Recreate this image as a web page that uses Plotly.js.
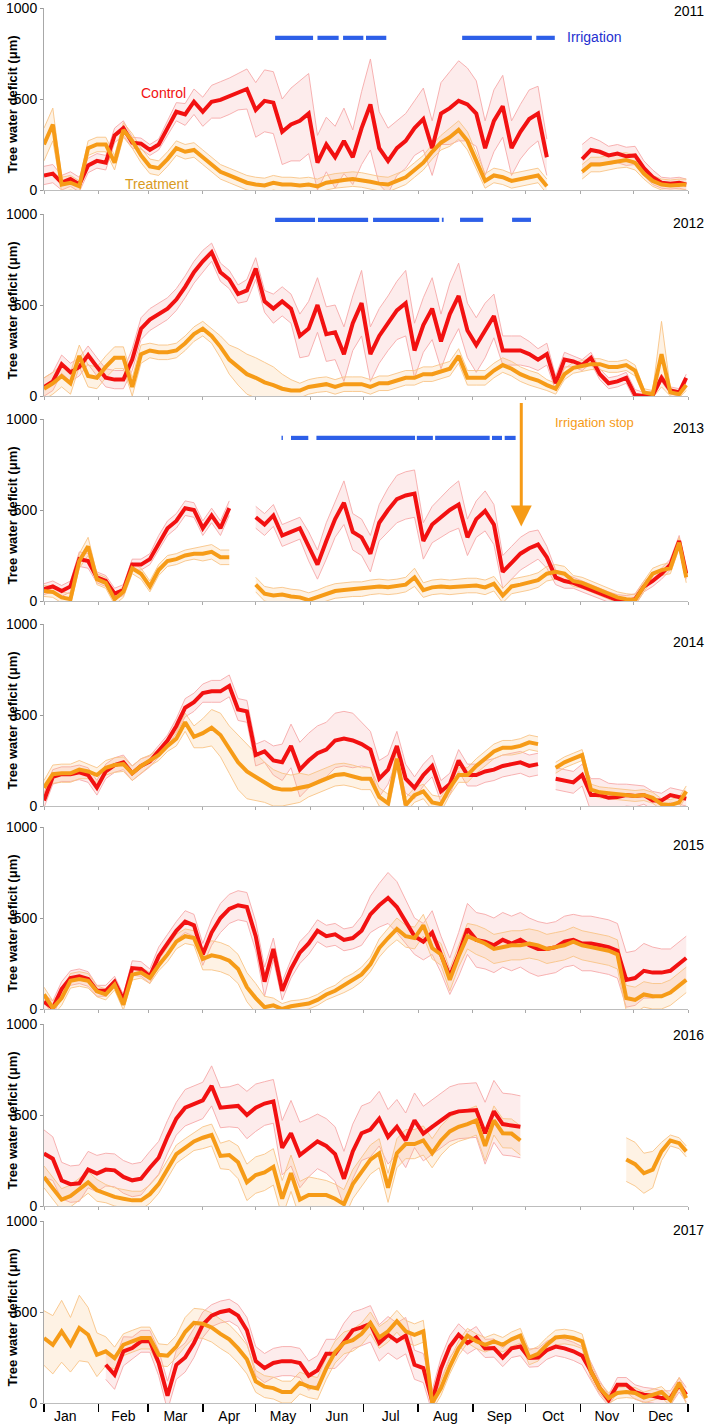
<!DOCTYPE html>
<html><head><meta charset="utf-8">
<script src="https://cdn.plot.ly/plotly-3.0.1.min.js"></script>
<style>html,body{margin:0;padding:0;background:#fff}</style>
</head><body><div id="chart" style="width:709px;height:1427px"></div>
<script>
// day of year for every sample
const days = [0,5,10,15,20,25,30,35,40,45,50,55,60,65,70,75,80,85,90,95,100,105,110,115,120,125,130,135,140,145,150,155,160,165,170,175,180,185,190,195,200,205,210,215,220,225,230,235,240,245,250,255,260,265,270,275,280,285,290,295,300,305,310,315,320,325,330,335,340,345,350,355,360,364];
const monthNames = ["Jan","Feb","Mar","Apr","May","Jun","Jul","Aug","Sep","Oct","Nov","Dec"];
const monthMids = [12,45,74.5,105,135.5,166,196.5,227.5,258,288.5,319,349.5];
const monthEdges = [0,31,59,90,120,151,181,212,243,273,304,334,365];
const years = [2011,2012,2013,2014,2015,2016,2017];

const ctrl2011 = [80,90,40,60,30,135,160,150,300,340,260,255,220,250,340,430,415,485,430,485,495,515,540,555,440,490,480,320,360,380,420,150,250,180,270,180,340,470,230,160,230,270,340,390,230,420,450,490,470,420,230,380,460,230,320,390,420,180,null,null,null,170,220,210,190,200,185,190,120,70,40,35,40,30];
const treat2011 = [250,360,30,40,20,230,250,250,150,330,270,190,130,120,170,230,210,220,180,140,100,80,60,40,30,25,40,30,30,25,30,20,40,50,55,60,55,45,35,30,50,70,110,150,210,260,290,330,270,160,50,80,70,50,60,70,80,20,null,null,null,100,140,140,150,160,165,150,90,50,30,25,30,30];
const ctrlSd2011 = [50,50,40,40,40,40,40,40,40,40,30,30,30,30,40,50,60,70,80,90,100,100,100,110,150,170,170,180,200,220,220,150,150,170,180,150,200,250,200,180,150,150,150,170,150,170,200,220,200,180,150,170,170,150,150,160,150,100,0,0,0,80,70,60,50,50,50,50,40,40,30,30,30,30];
const treatSd2011 = [90,90,40,40,30,40,40,40,40,40,40,40,40,40,40,40,40,40,40,40,40,40,40,40,40,40,40,40,40,40,40,40,40,40,40,40,40,40,40,40,40,40,40,40,40,40,50,50,50,50,40,40,40,40,40,40,40,40,0,0,0,40,40,40,40,40,40,40,30,30,30,30,30,30];

const ctrl2012 = [49,80,175,130,160,225,160,100,90,90,200,370,420,450,480,530,600,680,740,790,680,640,560,580,700,520,480,520,480,330,370,500,340,350,230,400,510,230,330,400,470,510,250,390,480,300,450,550,360,280,360,440,250,250,250,230,200,230,70,200,190,170,210,120,70,80,100,5,0,5,100,30,20,100];
const treat2012 = [40,70,110,70,220,110,100,160,210,210,50,230,250,240,240,250,290,340,370,330,270,200,160,120,100,75,60,40,30,30,50,60,65,50,65,65,65,50,70,70,85,100,100,120,120,135,150,220,100,100,100,140,170,150,120,100,85,60,40,120,155,165,175,175,160,160,170,140,20,10,230,20,10,60];
const ctrlSd2012 = [50,50,50,50,50,50,50,50,50,50,60,60,60,60,60,60,60,60,60,50,50,50,50,60,60,60,80,80,80,120,150,150,150,150,150,150,180,150,150,150,160,180,150,150,170,150,170,180,150,150,150,120,80,80,80,70,60,60,40,40,30,30,30,30,30,30,30,30,20,20,20,20,20,20];
const treatSd2012 = [60,60,60,60,60,60,60,60,60,60,50,50,40,40,40,40,40,40,40,40,60,80,100,110,110,110,100,80,60,40,40,40,40,40,40,40,40,40,40,40,40,40,40,40,40,40,40,40,40,40,40,40,40,40,40,40,40,30,30,30,30,30,30,30,30,30,30,30,20,20,180,20,20,30];

const ctrl2013 = [65,80,55,80,230,220,130,110,40,60,200,200,230,320,400,440,510,500,400,470,400,510,null,null,460,420,470,360,380,400,300,200,330,450,540,380,350,260,430,500,560,580,590,330,420,460,500,530,350,450,495,420,160,210,260,290,310,240,130,110,100,80,60,40,20,5,0,10,80,110,150,200,330,150];
const treat2013 = [55,50,20,10,220,300,120,100,10,50,180,150,80,170,220,230,250,260,260,270,240,240,null,null,90,40,30,35,25,20,5,20,40,55,60,65,65,75,80,75,80,90,130,60,75,80,75,80,85,85,75,95,30,80,90,100,115,150,160,150,110,100,80,60,40,20,10,5,80,150,170,180,320,130];
const ctrlSd2013 = [30,30,30,30,40,40,30,30,30,30,30,30,30,40,40,40,40,40,40,40,40,40,0,0,60,60,60,60,60,60,80,80,100,100,120,100,100,100,100,120,130,130,130,100,100,110,120,130,100,100,110,110,90,90,90,90,80,60,40,40,30,30,30,30,30,30,30,30,30,30,30,30,30,30];
const treatSd2013 = [30,30,30,30,40,50,30,30,30,30,30,30,30,30,30,30,30,30,40,40,40,40,0,0,40,40,40,40,40,40,40,40,40,40,40,40,40,40,40,40,40,40,50,40,40,40,40,40,40,40,40,40,40,40,40,40,40,40,40,40,30,30,30,30,30,30,30,30,30,30,30,30,30,30];

const ctrl2014 = [30,160,175,175,185,170,100,190,225,240,180,220,245,300,360,440,540,570,620,630,630,660,530,520,280,300,250,240,330,200,250,290,310,360,370,360,340,310,150,200,330,150,100,170,220,80,120,250,170,170,190,200,220,230,240,220,230,null,150,140,130,170,60,60,45,50,60,55,60,30,30,60,50,40];
const treat2014 = [100,175,180,180,200,190,170,210,225,230,180,220,250,280,330,370,460,380,400,430,390,310,240,190,160,130,100,90,90,100,110,130,150,170,175,165,150,150,50,15,260,5,60,80,20,10,100,170,170,220,260,300,320,320,330,350,340,null,210,240,260,280,90,75,70,65,60,55,60,45,10,5,20,80];
const ctrlSd2014 = [40,40,40,40,40,40,40,40,40,40,40,40,30,30,30,40,50,50,50,60,60,60,60,60,60,60,80,100,120,150,150,150,150,150,150,150,120,100,100,80,80,80,60,60,60,60,60,60,60,60,60,60,60,60,60,60,60,0,60,60,60,60,90,90,80,70,60,60,50,50,40,40,40,40];
const treatSd2014 = [40,50,50,50,50,40,40,40,40,40,40,40,30,30,30,40,50,60,80,100,120,130,150,150,130,110,100,90,80,80,60,60,60,60,60,60,60,60,50,50,50,40,40,40,40,40,40,40,40,40,40,40,40,40,40,40,40,0,30,30,30,30,30,30,30,30,30,30,30,30,30,30,30,30];

const ctrl2015 = [40,5,110,170,180,165,100,100,150,50,225,220,180,290,360,430,480,460,300,420,500,550,570,560,400,150,330,100,220,310,360,430,400,410,380,390,430,520,570,610,560,480,400,370,420,300,180,300,440,380,370,350,380,360,380,350,330,330,340,370,380,360,360,350,340,320,160,170,210,200,200,210,250,280];
const treat2015 = [80,5,60,155,165,155,97,80,134,24,189,200,170,240,300,370,400,390,275,295,285,265,220,120,60,10,20,0,15,20,30,50,80,100,130,155,190,245,335,390,440,400,390,460,335,300,160,290,400,380,360,330,340,350,350,360,350,330,340,350,370,350,340,330,320,300,60,50,80,70,70,90,130,160];
const ctrlSd2015 = [40,40,40,40,40,40,30,30,30,30,40,40,40,50,50,50,60,60,60,70,80,80,80,80,80,80,60,50,50,60,60,60,60,60,60,60,80,100,120,140,140,120,100,100,120,100,100,120,140,150,150,150,150,150,150,150,150,140,140,140,140,150,150,150,150,150,150,150,150,140,130,120,120,120];
const treatSd2015 = [40,40,40,40,40,40,30,30,30,30,30,30,30,30,40,40,40,40,60,80,80,80,80,80,80,60,40,30,30,30,30,30,30,30,40,40,40,40,50,50,60,60,60,60,60,60,60,60,70,80,80,80,80,80,80,80,80,80,80,80,80,80,80,80,80,80,70,70,70,70,70,70,70,70];

const ctrl2016 = [288,260,140,120,125,200,178,200,196,160,141,150,210,265,380,480,540,560,580,660,540,545,550,500,540,563,575,320,400,280,320,355,330,285,150,300,400,420,480,380,435,361,471,398,435,470,505,520,525,527,400,520,450,445,435,null,null,null,null,null,null,null,null,null,null,null,null,null,null,null,null,null,null,null];
const treat2016 = [160,100,35,55,90,130,86,68,50,40,31,31,65,120,200,285,320,355,375,390,275,280,240,130,170,185,215,40,180,35,60,60,60,40,10,120,190,255,290,100,290,340,340,360,290,360,410,435,450,470,330,470,400,398,360,null,null,null,null,null,null,null,null,null,null,null,255,230,180,200,300,360,345,300];
const ctrlSd2016 = [130,120,100,100,100,100,100,90,90,90,90,90,90,90,90,90,100,100,100,110,110,110,120,130,130,120,120,150,180,180,160,150,150,150,150,150,150,150,150,150,150,150,150,150,150,150,150,150,150,150,170,170,170,170,170,0,0,0,0,0,0,0,0,0,0,0,0,0,0,0,0,0,0,0];
const treatSd2016 = [60,60,60,60,60,60,60,50,50,50,50,50,50,50,50,50,50,50,60,60,70,80,90,100,100,100,100,100,100,100,100,90,80,80,80,80,80,80,80,80,80,80,80,80,80,80,80,80,80,80,80,80,80,80,80,0,0,0,0,0,0,0,0,0,0,0,120,120,110,100,50,30,30,30];

const ctrl2017 = [null,null,null,null,null,null,null,210,155,284,302,339,339,220,40,210,250,330,430,480,500,510,480,400,230,192,220,230,230,220,150,180,270,270,339,400,415,435,330,375,340,370,210,192,9,190,310,375,330,360,300,302,250,300,310,247,250,290,310,300,284,260,174,82,15,100,100,60,46,40,27,27,100,46];
const treat2017 = [357,320,394,320,412,375,265,284,247,320,339,357,357,265,260,310,390,440,435,415,380,350,300,240,119,90,82,60,60,110,90,80,190,280,330,345,380,440,360,394,449,394,375,394,0,82,200,300,370,340,320,339,320,350,370,250,270,320,360,365,357,339,174,82,27,55,60,55,30,46,60,15,110,27];
const ctrlSd2017 = [0,0,0,0,0,0,0,80,80,80,60,60,60,70,80,80,80,80,70,60,60,60,60,70,80,80,80,80,80,80,80,80,80,80,100,100,100,100,100,100,100,100,80,80,60,60,60,60,60,60,50,50,50,50,50,50,50,50,50,50,50,50,50,40,30,40,40,40,40,40,40,40,40,40];
const treatSd2017 = [150,160,170,150,180,150,120,80,60,60,60,60,60,60,60,60,80,80,80,80,80,80,80,80,60,60,60,60,60,60,60,60,60,60,60,60,60,60,60,60,60,60,60,60,40,40,40,40,40,40,40,40,40,40,40,40,40,40,40,40,40,40,40,30,30,30,30,30,30,30,30,30,30,30];

// irrigation periods (day of year) and the level where the marks are drawn
const irrStart2011 = [131,155,169.5,182.5,237,279];
const irrEnd2011   = [152.5,167,181,194,276.5,289.5];
const irrStart2012 = [131,155.3,186.5,225.5,235.8,265.3];
const irrEnd2012   = [153.6,183.7,224,226.5,248.9,276];
const irrStart2013 = [134.6,140,154.4,211.3,221.7,253.9,261.1];
const irrEnd2013   = [135.4,149.8,210.3,220.4,252.6,259.6,267.3];
const irrLevels = [836, 968, 896];

const panels = [
  {ctrl:ctrl2011, cs:ctrlSd2011, treat:treat2011, ts:treatSd2011, is:irrStart2011, ie:irrEnd2011},
  {ctrl:ctrl2012, cs:ctrlSd2012, treat:treat2012, ts:treatSd2012, is:irrStart2012, ie:irrEnd2012},
  {ctrl:ctrl2013, cs:ctrlSd2013, treat:treat2013, ts:treatSd2013, is:irrStart2013, ie:irrEnd2013},
  {ctrl:ctrl2014, cs:ctrlSd2014, treat:treat2014, ts:treatSd2014},
  {ctrl:ctrl2015, cs:ctrlSd2015, treat:treat2015, ts:treatSd2015},
  {ctrl:ctrl2016, cs:ctrlSd2016, treat:treat2016, ts:treatSd2016},
  {ctrl:ctrl2017, cs:ctrlSd2017, treat:treat2017, ts:treatSd2017}
];

const FONT = 'Liberation Sans, Arial, Helvetica, sans-serif';
const RED = '#f21111', ORANGE = '#f69b17', PINK = '#f6a9a9', LORANGE = '#f8c487', BLUE = '#2d5fe8';
const PINKFILL = 'rgba(246,160,160,0.2)', ORFILL = 'rgba(248,190,120,0.2)';
const H = 1427, PH = 182;
const tops = [8, 214, 419, 624, 827, 1024, 1221];
const yearLabelY = [985, 950, 950, 900, 900, 940, 950];

// contiguous runs of non-null values
function runs(m){
  const out = []; let s = -1;
  m.forEach((v,i)=>{ if (v!=null && s<0) s=i; if ((v==null || i===m.length-1) && s>=0){ out.push([s, v==null? i : i+1]); s=-1; } });
  return out;
}

const traces = [];
const layout = {
  width:709, height:1427, paper_bgcolor:'#fff', plot_bgcolor:'#fff',
  margin:{l:44, r:21, t:0, b:0}, showlegend:false,
  font:{family:FONT, size:13, color:'#000'},
  annotations:[]
};

function addBand(mean, sd, line, fill, xa, ya){
  runs(mean).forEach(([a,b])=>{
    const xs = days.slice(a,b), m = mean.slice(a,b), s = sd.slice(a,b);
    traces.push({x:xs, y:m.map((v,i)=>v+s[i]), xaxis:xa, yaxis:ya, mode:'lines', line:{color:line, width:0.9}, hoverinfo:'skip'});
    traces.push({x:xs, y:m.map((v,i)=>v-s[i]), xaxis:xa, yaxis:ya, mode:'lines', line:{color:line, width:0.9}, fill:'tonexty', fillcolor:fill, hoverinfo:'skip'});
  });
}

panels.forEach((p, k) => {
  const n = k + 1;
  const xa = 'x' + (n===1?'':n), ya = 'y' + (n===1?'':n);
  const bottom = (k === 6);
  addBand(p.ctrl, p.cs, PINK, PINKFILL, xa, ya);
  addBand(p.treat, p.ts, LORANGE, ORFILL, xa, ya);
  traces.push({x:days, y:p.ctrl, xaxis:xa, yaxis:ya, mode:'lines', line:{color:RED, width:4}, name:'Control'});
  traces.push({x:days, y:p.treat, xaxis:xa, yaxis:ya, mode:'lines', line:{color:ORANGE, width:4}, name:'Treatment'});
  if (p.is) {
    const ix = [], iy = [];
    p.is.forEach((s,i)=>{ ix.push(s, p.ie[i], null); iy.push(irrLevels[k], irrLevels[k], null); });
    traces.push({x:ix, y:iy, xaxis:xa, yaxis:ya, mode:'lines', line:{color:BLUE, width:4.2}, hoverinfo:'skip'});
  }
  const top = tops[k];
  layout['xaxis' + (n===1?'':n)] = {
    domain:[0,1], anchor:ya, range:[0,365], showgrid:false, zeroline:false,
    showline:true, linecolor:'#bdbdbd', linewidth:1,
    tickmode:'array', tickvals: bottom ? monthMids : [], ticktext: bottom ? monthNames : [],
    ticks:'', showticklabels:bottom, tickfont:{size:14, color:'#000', family:FONT},
    minor:{tickmode:'array', tickvals:monthEdges, ticks:'outside', ticklen: bottom?8:3, tickwidth: bottom?1.5:1, tickcolor: bottom?'#000':'#aaa', showgrid:false},
    fixedrange:true
  };
  layout['yaxis' + (n===1?'':n)] = {
    domain:[1-(top+PH)/H, 1-top/H], anchor:xa, range:[0,1000],
    tickmode:'array', tickvals:[0,500,1000], ticks:'outside', ticklen:3, tickcolor:'#999',
    showline:true, linecolor:'#a8a8a8', linewidth:1, showgrid:false, zeroline:false,
    ticklabeloverflow:'allow',
    tickfont:{size:14, color:'#000', family:FONT}, fixedrange:true
  };
  layout.annotations.push({
    xref:'paper', x:(12-44)/644, yref: ya + ' domain', y:0.47, xanchor:'center', yanchor:'middle',
    text:'<b>Tree water deficit (μm)</b>', textangle:-90, showarrow:false, font:{size:13, color:'#000'}
  });
  layout.annotations.push({
    xref:'paper', x:(706-44)/644, xanchor:'right', yref:ya, y:yearLabelY[k], yanchor:'middle',
    text:String(years[k]), showarrow:false, font:{size:14, color:'#000'}
  });
});

layout.annotations.push(
  {xref:'x', yref:'y', x:68, y:535, text:'Control', showarrow:false, font:{size:14, color:RED}},
  {xref:'x', yref:'y', x:64, y:33, text:'Treatment', showarrow:false, font:{size:14, color:'#d99a1e'}},
  {xref:'x', yref:'y', x:312, y:841, text:'Irrigation', showarrow:false, font:{size:14, color:'#2430d0'}},
  {xref:'x3', yref:'y3', x:312, y:978, text:'Irrigation stop', showarrow:false, font:{size:13, color:ORANGE}},
  {xref:'x3', yref:'y3', x:270.5, y:410, text:'', showarrow:true, ax:0, ay:-125, arrowcolor:ORANGE, arrowwidth:3, arrowhead:2, arrowsize:1.4, standoff:0}
);

Plotly.newPlot('chart', traces, layout, {staticPlot:true, displayModeBar:false});
</script></body></html>
